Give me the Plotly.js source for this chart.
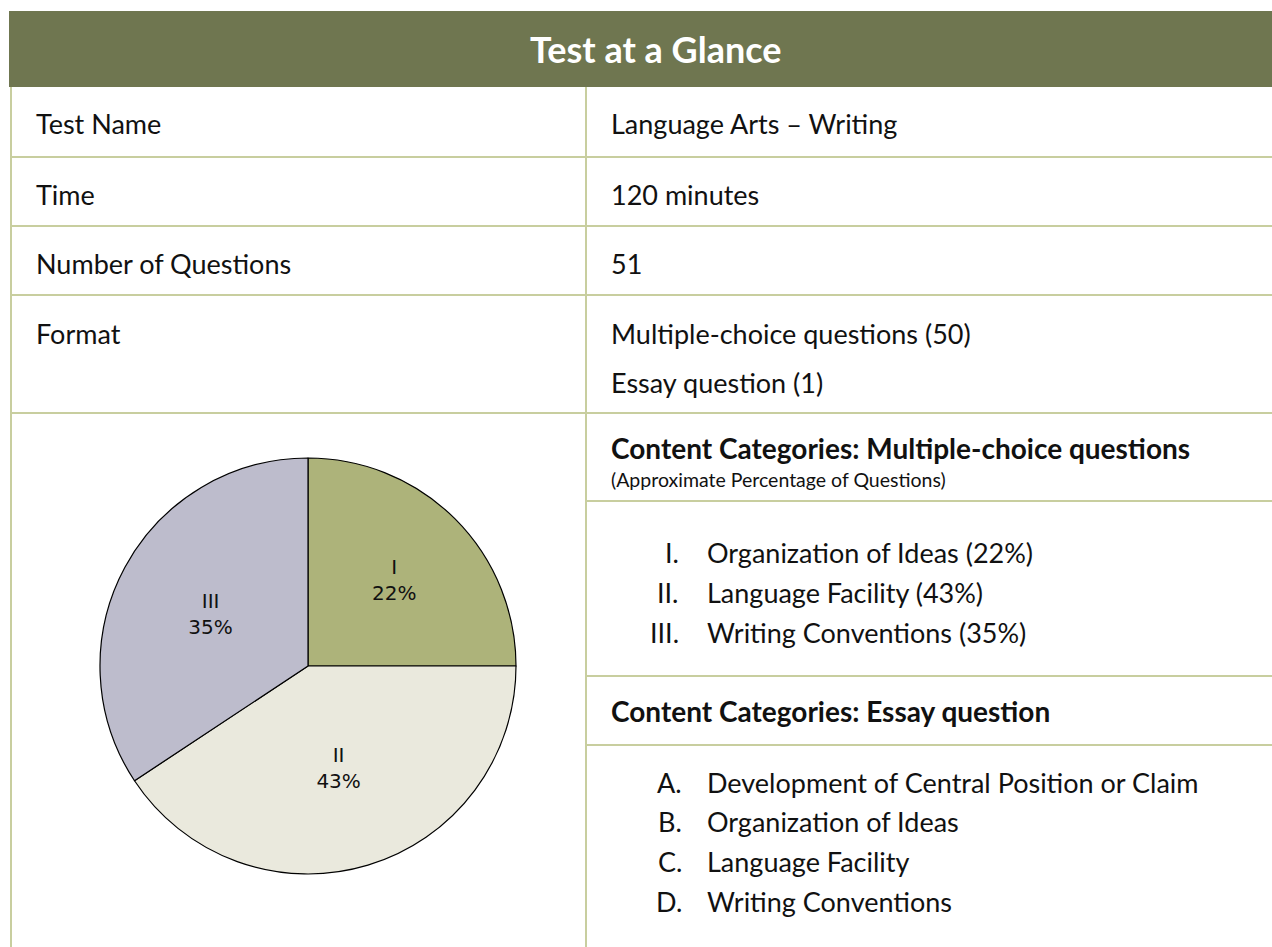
<!DOCTYPE html>
<html>
<head>
<meta charset="utf-8">
<script src="https://cdn.plot.ly/plotly-3.0.1.min.js"></script>
<style>
  html, body { margin: 0; padding: 0; background: #ffffff; }
  #chart { width: 1272px; height: 947px; }
</style>
</head>
<body>
<div id="chart"></div>
<script>
// ---------- data ----------
const titleText = "Test at a Glance";
const rowLabels = ["Test Name", "Time", "Number of Questions", "Format"];
const rowValues = ["Language Arts \u2013 Writing", "120 minutes", "51", "Multiple-choice questions (50)"];
const formatExtra = "Essay question (1)";
const mcHeading = "Content Categories: Multiple-choice questions";
const mcSubHeading = "(Approximate Percentage of Questions)";
const mcNumerals = ["I.", "II.", "III."];
const mcCategories = ["Organization of Ideas", "Language Facility", "Writing Conventions"];
const mcPercents = [22, 43, 35];           // stated percentages
const essayHeading = "Content Categories: Essay question";
const essayLetters = ["A.", "B.", "C.", "D."];
const essayCategories = ["Development of Central Position or Claim", "Organization of Ideas", "Language Facility", "Writing Conventions"];
const pieLabels = ["I", "II", "III"];
const pieShares = [25, 40.7, 34.3];         // slice sizes as drawn in the picture
const pieColors = ["#ADB37A", "#EAE9DD", "#BDBCCC"];

// ---------- layout helpers ----------
const W = 1272, H = 947;
const px = x => x / W;
const py = y => 1 - y / H;
const FONT = "Lato, 'Open Sans', sans-serif";
const BODY = 27;
const BOLD = 28;
const LINE = "#C8CE9F";

const shapes = [];
const annotations = [];

// header band
shapes.push({type: "rect", xref: "paper", yref: "paper", x0: px(9), x1: px(1272), y0: py(87), y1: py(11),
  fillcolor: "#6F7650", line: {width: 0}, layer: "below"});
annotations.push({xref: "paper", yref: "paper", x: px(655), y: py(49), text: "<b>" + titleText + "</b>",
  showarrow: false, xanchor: "center", yanchor: "middle", borderpad: 0,
  font: {family: FONT, size: 36, color: "#ffffff"}});

// table lines
function hline(y, x0, x1) {
  shapes.push({type: "line", xref: "paper", yref: "paper", x0: px(x0), x1: px(x1), y0: py(y), y1: py(y),
    line: {color: LINE, width: 2}});
}
function vline(x, y0, y1) {
  shapes.push({type: "line", xref: "paper", yref: "paper", x0: px(x), x1: px(x), y0: py(y0), y1: py(y1),
    line: {color: LINE, width: 2}});
}
[157, 226, 295, 413].forEach(y => hline(y, 11, 1272));
[501, 676, 745].forEach(y => hline(y, 586, 1272));
vline(11, 87, 947);
vline(586, 87, 947);

function txt(x, y, s, opts) {
  opts = opts || {};
  annotations.push({xref: "paper", yref: "paper", x: px(x), y: py(y), text: s, showarrow: false,
    xanchor: opts.anchor || "left", yanchor: "middle", align: opts.anchor || "left", borderpad: 0,
    font: {family: FONT, size: opts.size || BODY, color: "#111111"}});
}

const rowY = [124, 194, 263, 334];
rowLabels.forEach((s, i) => txt(35, rowY[i], s));
rowValues.forEach((s, i) => txt(610, rowY[i], s));
txt(610, 382, formatExtra);

txt(610, 448, "<b>" + mcHeading + "</b>", {size: BOLD});
txt(610, 479, mcSubHeading, {size: 19.5});
const mcY = [552, 592, 632];
mcNumerals.forEach((s, i) => txt(680, mcY[i], s, {anchor: "right"}));
mcCategories.forEach((s, i) => txt(706, mcY[i], s + " (" + mcPercents[i] + "%)"));

txt(610, 711, "<b>" + essayHeading + "</b>", {size: BOLD});
const esY = [782, 821, 861, 901];
essayLetters.forEach((s, i) => txt(683, esY[i], s, {anchor: "right"}));
essayCategories.forEach((s, i) => txt(706, esY[i], s));

// pie
const cx = 308, cy = 666, r = 208;
const pie = {
  type: "pie",
  values: pieShares,
  labels: pieLabels,
  text: pieLabels.map((l, i) => l + "<br>" + mcPercents[i] + "%"),
  textinfo: "text",
  textposition: "inside",
  insidetextorientation: "horizontal",
  textfont: {family: "'DejaVu Sans', sans-serif", size: 20, color: "#111111"},
  sort: false,
  direction: "clockwise",
  rotation: 0,
  marker: {colors: pieColors, line: {color: "#000000", width: 1.2}},
  hoverinfo: "skip",
  showlegend: false,
  domain: {x: [px(cx - r), px(cx + r)], y: [py(cy + r), py(cy - r)]}
};

const layout = {
  width: W, height: H,
  margin: {l: 0, r: 0, t: 0, b: 0},
  paper_bgcolor: "#ffffff",
  plot_bgcolor: "#ffffff",
  showlegend: false,
  shapes: shapes,
  annotations: annotations
};

Plotly.newPlot("chart", [pie], layout, {displayModeBar: false, staticPlot: true});
</script>
</body>
</html>
